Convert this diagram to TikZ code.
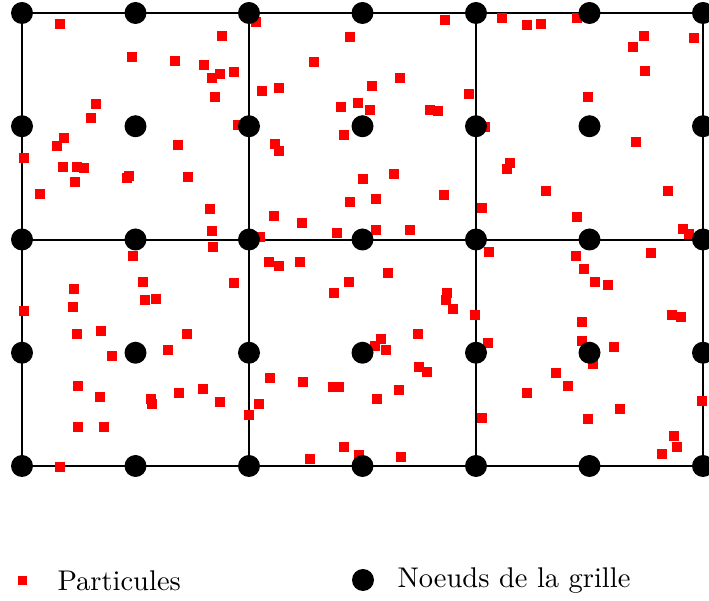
\documentclass[tikz,border=0pt]{standalone}
\usepackage{tikz}
\begin{document}
\begin{tikzpicture}[x=0.351pt,y=-0.351pt]
\tikzstyle{particule}=[fill=red]
\tikzstyle{noeud}=[fill=black]
\tikzstyle{legende}=[anchor=west,inner sep=0pt]
\clip (0,0) rectangle (709,601);
% grille
\draw [black,line width=0.75pt] (22,13) rectangle (703,466);
\draw [black,line width=0.75pt] (249,13) -- (249,466);
\draw [black,line width=0.75pt] (476,13) -- (476,466);
\draw [black,line width=0.75pt] (22,240) -- (703,240);
% particules
\foreach \x/\y in {60/24,222/36,132/57,175/61,204/65,220/74,212/78,234/72,215/97,96/104,
  91/118,238/125,64/138,57/146,24/158,178/145,63/167,77/167,84/168,75/182,129/176,127/178,
  188/177,40/194,210/209,212/231,213/247,
  256/22,445/20,350/37,314/62,400/78,262/91,279/88,372/86,341/107,358/103,370/110,430/110,
  438/111,469/94,344/135,275/144,279/151,363/179,394/174,444/195,350/202,376/199,482/208,
  274/216,302/223,337/233,376/230,410/230,260/237,
  502/18,527/25,541/24,577/18,644/36,633/47,694/38,645/71,588/97,485/127,636/142,510/163,
  507/169,546/191,668/191,577/217,683/229,689/234,
  133/256,143/282,234/283,74/289,73/307,24/311,145/300,156/299,77/334,101/331,187/334,
  168/350,112/356,78/386,100/397,151/399,152/404,179/393,203/389,220/402,249/415,78/427,
  104/427,60/467,
  269/262,279/266,300/262,388/273,349/282,334/293,447/293,446/300,453/309,475/315,418/334,
  381/339,375/346,386/350,419/367,427/372,270/378,303/382,333/387,339/387,399/390,377/399,
  259/404,482/418,344/447,359/455,310/459,401/457,
  489/252,576/256,651/253,584/269,595/282,608/285,582/322,672/315,681/317,488/343,582/341,
  614/347,593/364,556/373,568/386,527/393,702/401,620/409,588/419,674/436,677/447,662/454}
  \fill [particule] (\x-5,\y-5) rectangle (\x+5,\y+5);
% noeuds de la grille
\foreach \i in {0,...,6}
  \foreach \j in {0,...,4}
    \fill [noeud] (22+113.5*\i,13+113.25*\j) circle (11);
% legende
\fill [particule] (17.5,576.5) rectangle (26.5,585.5);
\draw (57,581) node [legende] (particules) {Particules};
\fill [noeud] (363,580) circle (11);
\draw (397,581) node [legende] (noeuds) {Noeuds de la grille};
\end{tikzpicture}
\end{document}
